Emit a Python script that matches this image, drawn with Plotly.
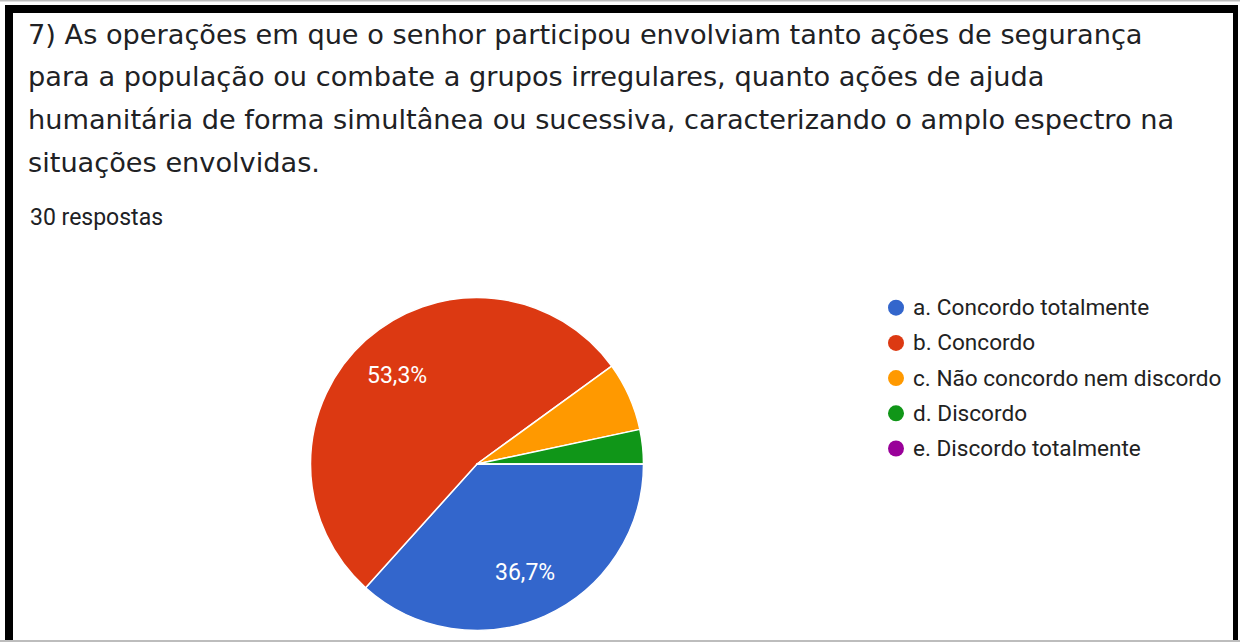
import math
import plotly.graph_objects as go

# Survey question and response data
question_lines = [
    "7) As operações em que o senhor participou envolviam tanto ações de segurança",
    "para a população ou combate a grupos irregulares, quanto ações de ajuda",
    "humanitária de forma simultânea ou sucessiva, caracterizando o amplo espectro na",
    "situações envolvidas.",
]
response_count_label = "30 respostas"
categories = [
    "a. Concordo totalmente",
    "b. Concordo",
    "c. Não concordo nem discordo",
    "d. Discordo",
    "e. Discordo totalmente",
]
responses = [11, 16, 2, 1, 0]
colors = ["#3366CC", "#DC3912", "#FF9900", "#109618", "#990099"]

W, H = 1240, 642


def px_x(x):
    return x / W


def px_y(y):
    return 1 - y / H


total = sum(responses)
cx, cy, r = 477, 464, 166.5
start_angle = 90  # first slice starts at 3 o'clock, clockwise

fig = go.Figure()
fig.add_trace(go.Pie(
    labels=categories,
    values=responses,
    sort=False,
    direction="clockwise",
    rotation=start_angle,
    marker=dict(colors=colors, line=dict(color="white", width=1.5)),
    textinfo="none",
    showlegend=False,
    hoverinfo="label+percent",
    domain=dict(x=[px_x(cx - r), px_x(cx + r)], y=[px_y(cy + r), px_y(cy - r)]),
))

shapes = []
annotations = []

# percentage labels on the larger slices
acc = 0
for v in responses:
    share = v / total
    mid = math.radians(start_angle + 360 * (acc + share / 2))
    acc += share
    if share < 0.1:
        continue
    k = 0.715
    lx = cx + k * r * math.sin(mid)
    ly = cy - k * r * math.cos(mid)
    annotations.append(dict(
        x=px_x(lx), y=px_y(ly), xref="paper", yref="paper",
        xanchor="center", yanchor="middle", showarrow=False,
        text=f"{share * 100:.1f}".replace(".", ",") + "%",
        font=dict(family="Roboto", size=23, color="white"),
    ))

# question text
for i, line in enumerate(question_lines):
    annotations.append(dict(
        x=px_x(26), y=px_y(34 + i * 42.7), xref="paper", yref="paper",
        xanchor="left", yanchor="middle", showarrow=False, text=line,
        font=dict(family="DejaVu Sans", size=27.2, color="#202124"),
    ))
annotations.append(dict(
    x=px_x(28), y=px_y(218), xref="paper", yref="paper",
    xanchor="left", yanchor="middle", showarrow=False, text=response_count_label,
    font=dict(family="Roboto", size=23, color="#202124"),
))

# legend with round swatches
for i, (lab, col) in enumerate(zip(categories, colors)):
    ly = 307.7 + i * 35.2
    shapes.append(dict(
        type="circle", xref="paper", yref="paper",
        x0=px_x(896 - 8), x1=px_x(896 + 8), y0=px_y(ly + 8), y1=px_y(ly - 8),
        fillcolor=col, line=dict(width=0),
    ))
    annotations.append(dict(
        x=px_x(911), y=px_y(ly), xref="paper", yref="paper",
        xanchor="left", yanchor="middle", showarrow=False, text=lab,
        font=dict(family="Roboto", size=22.6, color="#222222"),
    ))

# frame around the card
frame = [
    (0, 0, W, 1.5, "#BDBDBD"),
    (0, H - 2, W, H, "#BDBDBD"),
    (5, 5, 1238, 13, "black"),
    (5, 5, 13, H - 2, "black"),
    (1233, 5, 1238, H - 2, "black"),
]
for x0, y0, x1, y1, c in frame:
    shapes.append(dict(
        type="rect", xref="paper", yref="paper",
        x0=px_x(x0), x1=px_x(x1), y0=px_y(y1), y1=px_y(y0),
        fillcolor=c, line=dict(width=0), layer="above",
    ))

fig.update_layout(
    width=W, height=H,
    margin=dict(l=0, r=0, t=0, b=0),
    paper_bgcolor="white",
    plot_bgcolor="white",
    shapes=shapes,
    annotations=annotations,
)

fig.write_html("out.html")
